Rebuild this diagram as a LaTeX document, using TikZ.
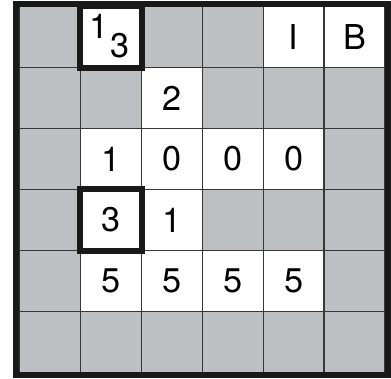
\documentclass[tikz,border=0pt]{standalone}
\usepackage{fontspec}
\setmainfont{TeX Gyre Heros}
\usepackage{tikz}
\usepackage{xcolor}
\usetikzlibrary{positioning}
\definecolor{boardGray}{RGB}{190,191,195}
\definecolor{gridDark}{RGB}{55,55,55}

\begin{document}
\begin{tikzpicture}[
    openCell/.style={fill=white, minimum size=1cm, inner sep=0pt,
                     font=\fontsize{16}{18}\selectfont},
    smallDigit/.style={inner sep=0pt, font=\fontsize{16}{18}\selectfont},
    gridLine/.style={draw=gridDark, line width=0.5pt},
    thickBox/.style={draw=black!90, line width=0.1cm},
  ]
  \useasboundingbox (-0.32,-0.1) rectangle (6.1,6.11);
  % board
  \fill[boardGray] (0,0) rectangle (6,6);
  % open cells, row by row from the top
  \node[openCell] (c01) at (1.5,5.5) {};
  \node[openCell] (c04) at (4.5,5.5) {I};
  \node[openCell] (c05) at (5.5,5.5) {B};
  \node[openCell] (c12) at (2.5,4.5) {2};
  \foreach \col/\val in {1/1, 2/0, 3/0, 4/0}
    \node[openCell] (c2\col) at (\col+0.5,3.5) {\val};
  \node[openCell] (c31) at (1.5,2.5) {3};
  \node[openCell] (c32) at (2.5,2.5) {1};
  \foreach \col in {1,...,4}
    \node[openCell] (c4\col) at (\col+0.5,1.5) {5};
  % clue in the corner cell
  \node[smallDigit] (clueTop) at ([xshift=-0.2cm, yshift=0.17cm]c01.center) {1};
  \node[smallDigit] (clueBottom) at ([xshift=0.15cm, yshift=-0.14cm]c01.center) {3};
  % grid
  \draw[gridLine] (0,0) grid (6,6);
  \draw[thickBox] (c01.south west) rectangle (c01.north east);
  \draw[thickBox] (c31.south west) rectangle (c31.north east);
  % frame
  \draw[draw=black!90, line width=0.1cm] (-0.05,-0.05) rectangle (6.05,6.05);
\end{tikzpicture}
\end{document}
